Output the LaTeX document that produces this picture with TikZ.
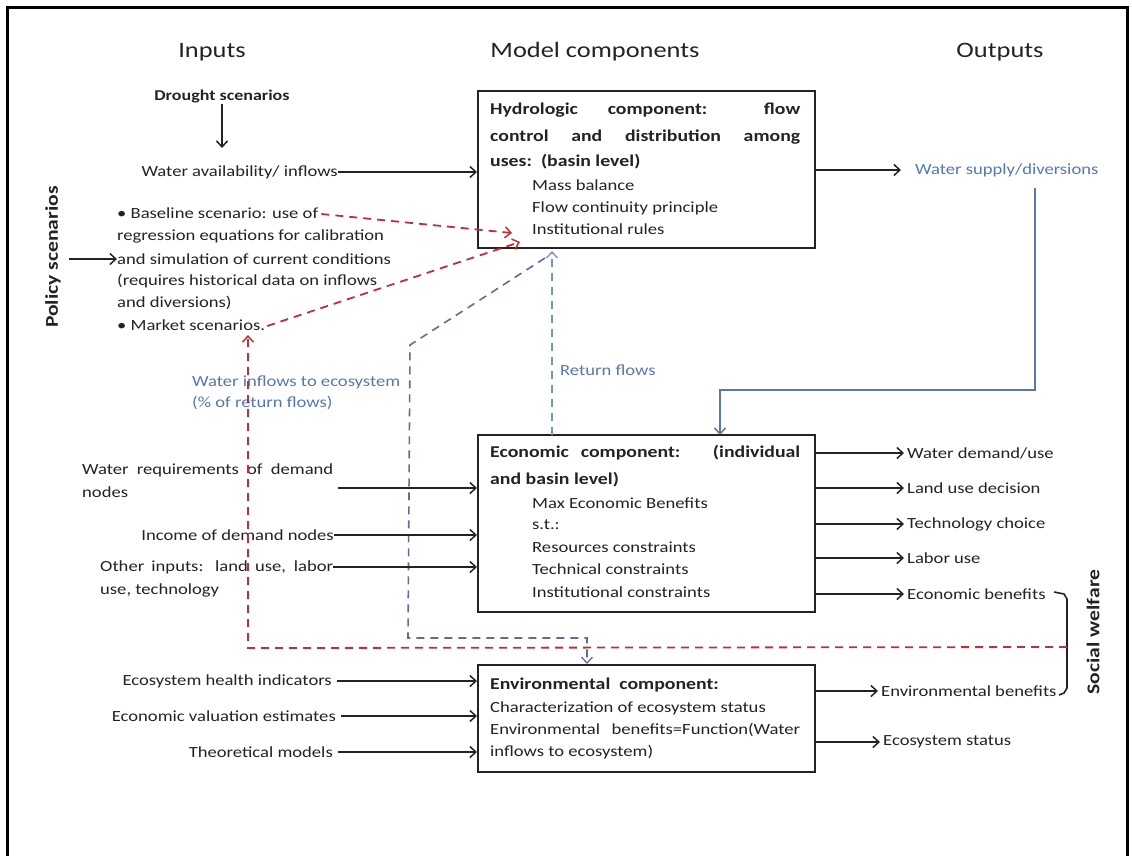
\documentclass[tikz,border=0pt]{standalone}
\usepackage{fontspec}
\setmainfont{Carlito}[FakeStretch=1.2]
\usetikzlibrary{arrows.meta}
\definecolor{txtc}{RGB}{35,35,35}
\definecolor{bluetxt}{RGB}{85,120,175}
\definecolor{redd}{RGB}{195,45,55}
\definecolor{blued}{RGB}{115,150,200}
\definecolor{greyb}{RGB}{95,110,150}
\definecolor{bluel}{RGB}{90,120,170}
\newcommand\fsz[1]{\fontsize{#1}{#1}\selectfont}
\tikzset{
  txt/.style={inner sep=0pt, text=txtc, font=\fsz{15.5}},
  ttl/.style={inner sep=0pt, text=txtc, font=\fsz{22}},
  btxt/.style={inner sep=0pt, text=txtc, font=\fsz{16.5}\bfseries},
  compbox/.style={draw=txtc, line width=2pt, inner sep=0pt},
  tip/.style={-{Straight Barb[length=6pt,width=11pt,line width=1.5pt]}},
  arr/.style={line width=1.7pt, draw=txtc, tip},
  reddash/.style={line width=1.8pt, draw=redd, dash pattern=on 8pt off 6pt, -{Straight Barb[length=6pt,width=11pt,line width=1.5pt]}},
  bluedash/.style={line width=1.6pt, draw=blued, dash pattern=on 8pt off 6pt, -{Straight Barb[length=6pt,width=11pt,line width=1.3pt]}},
  greydash/.style={line width=1.6pt, draw=greyb, dash pattern=on 8pt off 6pt, -{Straight Barb[length=6pt,width=11pt,line width=1.3pt]}},
}
\begin{document}
\begin{tikzpicture}[x=1pt,y=-1pt]
\useasboundingbox (0,0) rectangle (1132,855);
\fill[white] (0,0) rectangle (1132,855);
% outer frame
\draw[line width=3pt, black] (7,858) -- (7,7) -- (1127,7) -- (1127,858);

% titles
\node[ttl] (tin) at (212,52) {Inputs};
\node[ttl] (tmc) at (595,52) {Model components};
\node[ttl] (tout) at (1000,52) {Outputs};

% component boxes
\node[compbox, minimum width=337pt, minimum height=157pt] (hyd) at (646.5,169.5) {};
\node[compbox, minimum width=337pt, minimum height=177pt] (eco) at (646.5,523.5) {};
\node[compbox, minimum width=337pt, minimum height=107pt] (env) at (646.5,718.5) {};

% hydrologic text
\node[btxt, anchor=west] (h1) at (490,110) {\makebox[310pt][s]{Hydrologic component: flow}};
\node[btxt, anchor=west] (h2) at (490,137) {\makebox[310pt][s]{control and distribution among}};
\node[btxt, anchor=west] (h3) at (490,162) {uses:\ \ (basin level)};
\node[txt, anchor=west] (h4) at (532,185) {Mass balance};
\node[txt, anchor=west] (h5) at (532,208) {Flow continuity principle};
\node[txt, anchor=west] (h6) at (532,229) {Institutional rules};

% economic text
\node[btxt, anchor=west] (e1) at (490,453) {\makebox[310pt][s]{Economic component: \ (individual}};
\node[btxt, anchor=west] (e2) at (490,480) {and basin level)};
\node[txt, anchor=west] (e3) at (532,503) {Max Economic Benefits};
\node[txt, anchor=west] (e4) at (532,525) {s.t.:};
\node[txt, anchor=west] (e5) at (532,547) {Resources constraints};
\node[txt, anchor=west] (e6) at (532,569) {Technical constraints};
\node[txt, anchor=west] (e7) at (532,592) {Institutional constraints};

% environmental text
\node[btxt, anchor=west] (v1) at (490,685) {Environmental \ component:};
\node[txt, anchor=west] (v2) at (490,708) {Characterization of ecosystem status};
\node[txt, anchor=west] (v3) at (490,730) {\makebox[310pt][s]{Environmental \ benefits=Function(Water}};
\node[txt, anchor=west] (v4) at (490,752) {inflows to ecosystem)};

% inputs top
\node[btxt, font=\fsz{15}\bfseries] (dro) at (222,97) {Drought scenarios};
\node[txt, anchor=east] (wai) at (338,172) {Water availability/ inflows};
\draw[arr] (dro.south) -- (222,148);
\draw[arr] (wai.east) -- (wai.east -| hyd.west);

% policy scenarios
\node[btxt, font=\fsz{18}\bfseries, rotate=90] (pol) at (53,257) {Policy scenarios};
\node[txt, anchor=west] (p1) at (117,213) {\textbullet\ Baseline scenario: use of};
\node[txt, anchor=west] (p2) at (117,236) {regression equations for calibration};
\node[txt, anchor=west] (p3) at (117,259) {and simulation of current conditions};
\node[txt, anchor=west] (p4) at (117,281) {(requires historical data on inflows};
\node[txt, anchor=west] (p5) at (117,303) {and diversions)};
\node[txt, anchor=west] (p6) at (117,325) {\textbullet\ Market scenarios.};
\draw[arr] (pol.south |- p3.west) ++(8,0) coordinate (pa) -- (p3.west);
\draw[reddash] (p1.east) ++(3,1) coordinate (bs) -- (512,233) coordinate (bsend);
\draw[reddash] (p6.east) ++(2,1) coordinate (ms) -- (520,242) coordinate (msend);

% hydrologic output
\node[txt, text=bluetxt, anchor=west] (ws) at (915,170) {Water supply/diversions};
\draw[arr] (ws.west -| hyd.east) -- ([xshift=-14pt]ws.west);
\coordinate (wsb) at (1035,188);
\draw[line width=1.6pt, draw=bluel, tip] (wsb) -- (1035,390) -- (720,390) -- (720,435);

% return flows
\draw[bluedash] (552,435) -- (552,251);
\node[txt, text=bluetxt, anchor=west] (rf) at (560,370) {Return flows};

% water inflows to ecosystem
\draw[greydash] (545,258) -- (410,345) -- (408,638) -- (587,638) -- (587,664);
\node[txt, text=bluetxt, anchor=west] (wie) at (192,382) {Water inflows to ecosystem};
\node[txt, text=bluetxt, anchor=west] (wie2) at (192,403) {(\% of return flows)};

% economic inputs
\node[txt, anchor=west] (wr1) at (82,470) {\makebox[251pt][s]{Water requirements of demand}};
\node[txt, anchor=west] (wr2) at (82,492) {nodes};
\coordinate (wrs) at (338,488);
\draw[arr] (wrs) -- (wrs -| eco.west);
\node[txt, anchor=east] (inc) at (334,535) {Income of demand nodes};
\draw[arr] (inc.east) -- (inc.east -| eco.west);
\node[txt, anchor=west] (oi1) at (100,567) {\makebox[233pt][s]{Other inputs: land use, labor}};
\node[txt, anchor=west] (oi2) at (100,590) {use, technology};
\draw[arr] (oi1.east) -- (oi1.east -| eco.west);

% economic outputs
\node[txt, anchor=west] (o1) at (907,453) {Water demand/use};
\node[txt, anchor=west] (o2) at (907,488) {Land use decision};
\node[txt, anchor=west] (o3) at (907,524) {Technology choice};
\node[txt, anchor=west] (o4) at (907,558) {Labor use};
\node[txt, anchor=west] (o5) at (907,594) {Economic benefits};
\foreach \o in {o1,o2,o3,o4,o5} \draw[arr] (\o.west -| eco.east) -- ([xshift=-3pt]\o.west);

% environmental inputs
\node[txt, anchor=east] (ei1) at (332,681) {Ecosystem health indicators};
\node[txt, anchor=east] (ei2) at (336,716) {Economic valuation estimates};
\node[txt, anchor=east] (ei3) at (333,752) {Theoretical models};
\foreach \i in {ei1,ei2,ei3} \draw[arr] ([xshift=5pt]\i.east) -- (\i.east -| env.west);

% environmental outputs
\node[txt, anchor=west] (eo1) at (881,691) {Environmental benefits};
\node[txt, anchor=west] (eo2) at (883,742) {Ecosystem status};
\draw[arr] (eo1.west -| env.east) -- ([xshift=-3pt]eo1.west);
\draw[arr] (eo2.west -| env.east) -- ([xshift=-3pt]eo2.west);

% social welfare brace
\draw[line width=1.6pt, txtc] (1054,592) -- (1064,594) -- (1067,599) -- (1067,688) -- (1064,693) -- (1059,695);
\node[btxt, font=\fsz{18}\bfseries, rotate=90] (sw) at (1093,632) {Social welfare};
\coordinate (swm) at (1067,647);

% feedback red dashed
\draw[reddash] (swm) -- (248,648) -- (248,335);
\end{tikzpicture}
\end{document}
